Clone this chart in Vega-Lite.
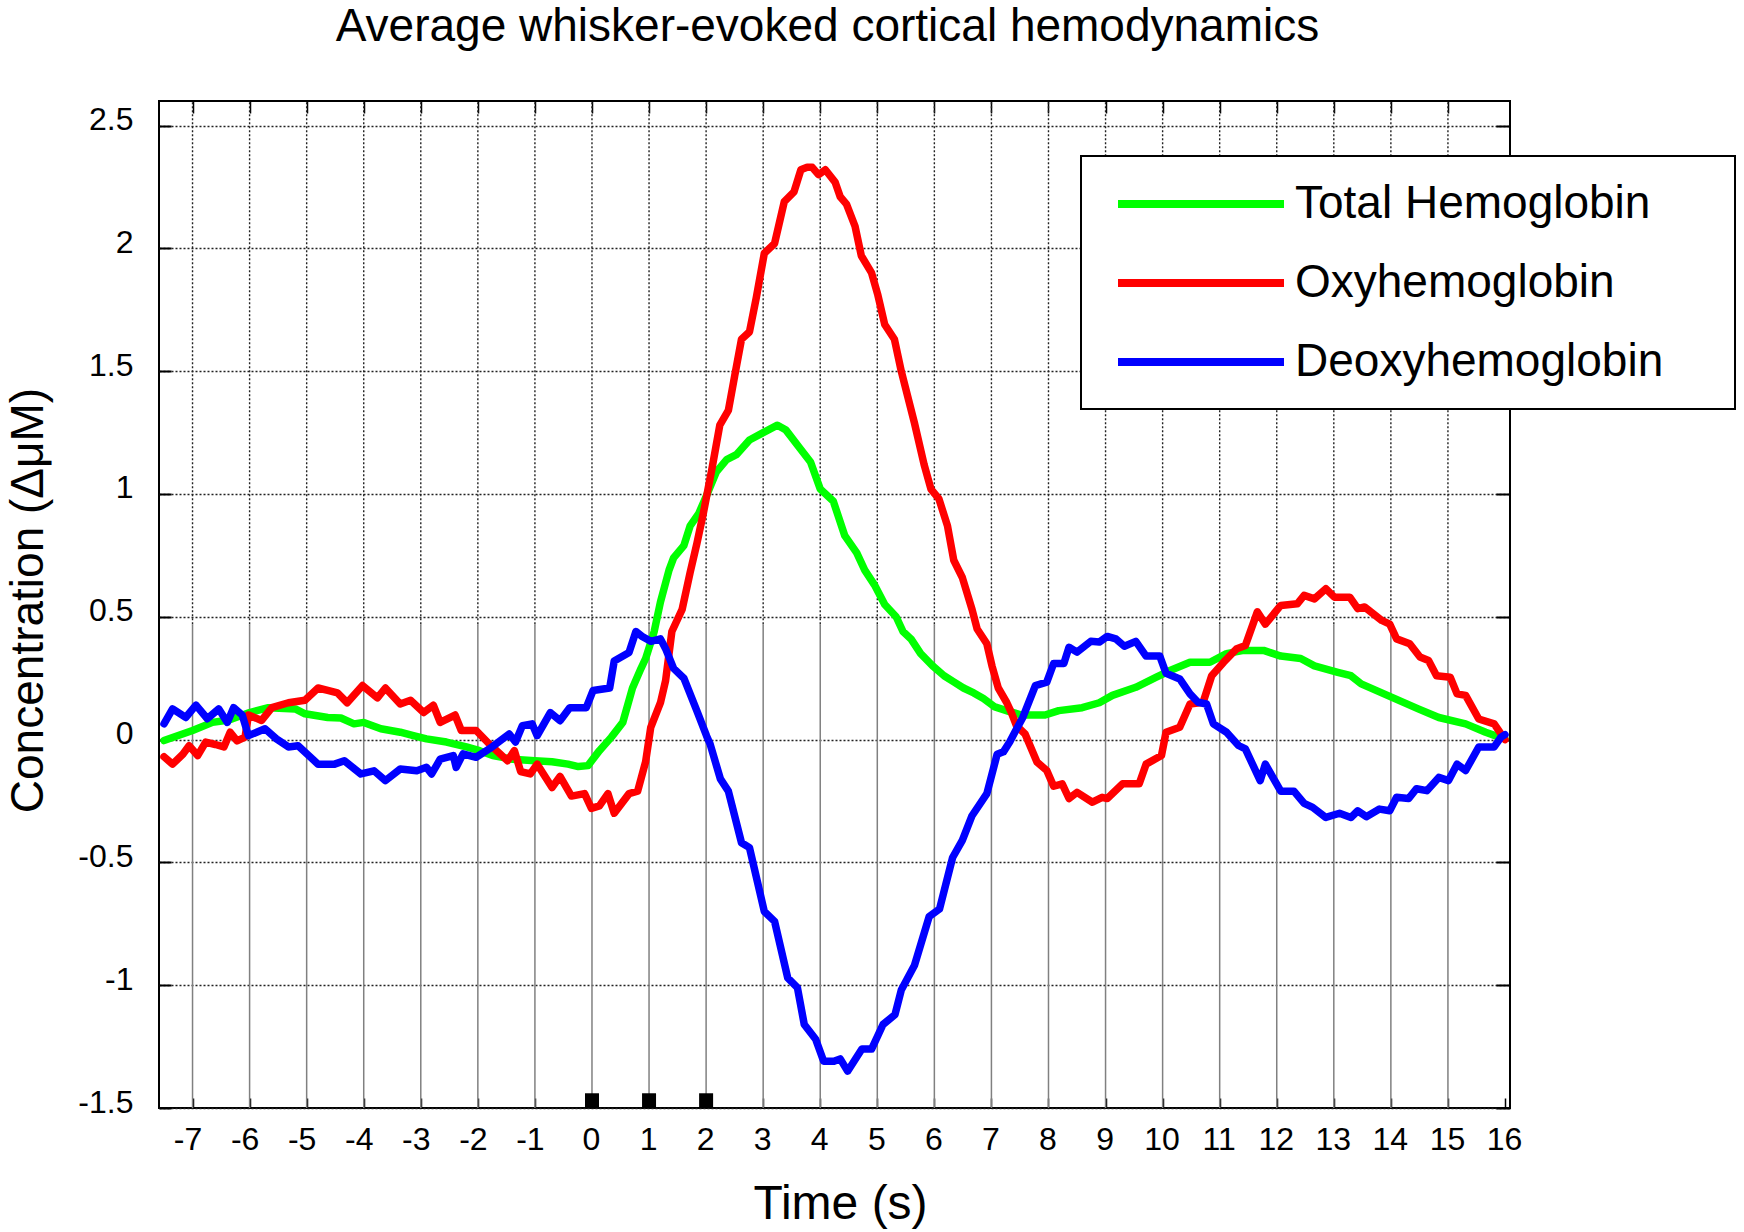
{
  "$schema": "https://vega.github.io/schema/vega-lite/v6.json",
  "width": 1351,
  "height": 1007,
  "autosize": {"type": "none"},
  "padding": {"left": 159, "top": 101, "right": 234, "bottom": 124},
  "background": "white",
  "title": {
    "text": "Average whisker-evoked cortical hemodynamics",
    "font": "Liberation Sans",
    "fontSize": 46,
    "fontWeight": "normal",
    "color": "black",
    "anchor": "middle",
    "baseline": "alphabetic",
    "offset": 13,
    "dx": -7
  },
  "config": {
    "view": {"stroke": "black", "strokeWidth": 2},
    "locale": {"number": {"decimal": ".", "thousands": ",", "grouping": [3], "currency": ["$", ""], "minus": "-"}},
    "axis": {"labelFont": "Liberation Sans", "titleFont": "Liberation Sans", "labelColor": "black", "titleColor": "black", "titleFontWeight": "normal"}
  },
  "resolve": {"axis": {"x": "independent", "y": "independent"}},
  "datasets": {
    "grid": [{"t": -7}, {"t": -6}, {"t": -5}, {"t": -4}, {"t": -3}, {"t": -2}, {"t": -1}, {"t": 0}, {"t": 1}, {"t": 2}, {"t": 3}, {"t": 4}, {"t": 5}, {"t": 6}, {"t": 7}, {"t": 8}, {"t": 9}, {"t": 10}, {"t": 11}, {"t": 12}, {"t": 13}, {"t": 14}, {"t": 15}],
    "stim": [{"t": 0}, {"t": 1}, {"t": 2}],
    "curves": [
      {"series": "Total Hemoglobin", "t": -7.5, "value": -0.004},
      {"series": "Total Hemoglobin", "t": -7.0, "value": 0.037},
      {"series": "Total Hemoglobin", "t": -6.65, "value": 0.07},
      {"series": "Total Hemoglobin", "t": -6.36, "value": 0.08},
      {"series": "Total Hemoglobin", "t": -6.0, "value": 0.11},
      {"series": "Total Hemoglobin", "t": -5.67, "value": 0.13},
      {"series": "Total Hemoglobin", "t": -5.2, "value": 0.125},
      {"series": "Total Hemoglobin", "t": -5.03, "value": 0.105},
      {"series": "Total Hemoglobin", "t": -4.63, "value": 0.09},
      {"series": "Total Hemoglobin", "t": -4.4, "value": 0.088},
      {"series": "Total Hemoglobin", "t": -4.17, "value": 0.064},
      {"series": "Total Hemoglobin", "t": -4.0, "value": 0.07},
      {"series": "Total Hemoglobin", "t": -3.7, "value": 0.044},
      {"series": "Total Hemoglobin", "t": -3.36, "value": 0.03},
      {"series": "Total Hemoglobin", "t": -3.13, "value": 0.016},
      {"series": "Total Hemoglobin", "t": -2.9, "value": 0.003},
      {"series": "Total Hemoglobin", "t": -2.55, "value": -0.01},
      {"series": "Total Hemoglobin", "t": -2.2, "value": -0.03},
      {"series": "Total Hemoglobin", "t": -1.97, "value": -0.045},
      {"series": "Total Hemoglobin", "t": -1.74, "value": -0.065},
      {"series": "Total Hemoglobin", "t": -1.39, "value": -0.08},
      {"series": "Total Hemoglobin", "t": -1.0, "value": -0.086},
      {"series": "Total Hemoglobin", "t": -0.7, "value": -0.09},
      {"series": "Total Hemoglobin", "t": -0.42, "value": -0.1},
      {"series": "Total Hemoglobin", "t": -0.24, "value": -0.11},
      {"series": "Total Hemoglobin", "t": -0.07, "value": -0.106},
      {"series": "Total Hemoglobin", "t": 0.13, "value": -0.045},
      {"series": "Total Hemoglobin", "t": 0.34, "value": 0.01},
      {"series": "Total Hemoglobin", "t": 0.54, "value": 0.07},
      {"series": "Total Hemoglobin", "t": 0.71, "value": 0.21},
      {"series": "Total Hemoglobin", "t": 0.86, "value": 0.29},
      {"series": "Total Hemoglobin", "t": 0.94, "value": 0.33},
      {"series": "Total Hemoglobin", "t": 1.09, "value": 0.44},
      {"series": "Total Hemoglobin", "t": 1.2, "value": 0.56},
      {"series": "Total Hemoglobin", "t": 1.35, "value": 0.69},
      {"series": "Total Hemoglobin", "t": 1.43, "value": 0.74},
      {"series": "Total Hemoglobin", "t": 1.61, "value": 0.79},
      {"series": "Total Hemoglobin", "t": 1.72, "value": 0.87},
      {"series": "Total Hemoglobin", "t": 1.87, "value": 0.92},
      {"series": "Total Hemoglobin", "t": 2.01, "value": 0.995},
      {"series": "Total Hemoglobin", "t": 2.18, "value": 1.09},
      {"series": "Total Hemoglobin", "t": 2.36, "value": 1.14},
      {"series": "Total Hemoglobin", "t": 2.53, "value": 1.16},
      {"series": "Total Hemoglobin", "t": 2.76, "value": 1.22},
      {"series": "Total Hemoglobin", "t": 3.0, "value": 1.25},
      {"series": "Total Hemoglobin", "t": 3.25, "value": 1.28},
      {"series": "Total Hemoglobin", "t": 3.4, "value": 1.26},
      {"series": "Total Hemoglobin", "t": 3.63, "value": 1.19},
      {"series": "Total Hemoglobin", "t": 3.83, "value": 1.13},
      {"series": "Total Hemoglobin", "t": 4.0, "value": 1.02},
      {"series": "Total Hemoglobin", "t": 4.23, "value": 0.97},
      {"series": "Total Hemoglobin", "t": 4.43, "value": 0.83},
      {"series": "Total Hemoglobin", "t": 4.64, "value": 0.76},
      {"series": "Total Hemoglobin", "t": 4.78, "value": 0.69},
      {"series": "Total Hemoglobin", "t": 4.95, "value": 0.63},
      {"series": "Total Hemoglobin", "t": 5.13, "value": 0.55},
      {"series": "Total Hemoglobin", "t": 5.33, "value": 0.5},
      {"series": "Total Hemoglobin", "t": 5.45, "value": 0.44},
      {"series": "Total Hemoglobin", "t": 5.59, "value": 0.41},
      {"series": "Total Hemoglobin", "t": 5.76, "value": 0.35},
      {"series": "Total Hemoglobin", "t": 5.97, "value": 0.3},
      {"series": "Total Hemoglobin", "t": 6.17, "value": 0.26},
      {"series": "Total Hemoglobin", "t": 6.34, "value": 0.235},
      {"series": "Total Hemoglobin", "t": 6.51, "value": 0.21},
      {"series": "Total Hemoglobin", "t": 6.69, "value": 0.19},
      {"series": "Total Hemoglobin", "t": 6.86, "value": 0.167},
      {"series": "Total Hemoglobin", "t": 7.06, "value": 0.133},
      {"series": "Total Hemoglobin", "t": 7.29, "value": 0.116},
      {"series": "Total Hemoglobin", "t": 7.53, "value": 0.1},
      {"series": "Total Hemoglobin", "t": 7.94, "value": 0.1},
      {"series": "Total Hemoglobin", "t": 8.18, "value": 0.118},
      {"series": "Total Hemoglobin", "t": 8.59, "value": 0.13},
      {"series": "Total Hemoglobin", "t": 8.89, "value": 0.15},
      {"series": "Total Hemoglobin", "t": 9.12, "value": 0.18},
      {"series": "Total Hemoglobin", "t": 9.53, "value": 0.213},
      {"series": "Total Hemoglobin", "t": 9.89, "value": 0.254},
      {"series": "Total Hemoglobin", "t": 10.12, "value": 0.28},
      {"series": "Total Hemoglobin", "t": 10.48, "value": 0.315},
      {"series": "Total Hemoglobin", "t": 10.83, "value": 0.315},
      {"series": "Total Hemoglobin", "t": 11.12, "value": 0.35},
      {"series": "Total Hemoglobin", "t": 11.42, "value": 0.363},
      {"series": "Total Hemoglobin", "t": 11.77, "value": 0.363},
      {"series": "Total Hemoglobin", "t": 12.07, "value": 0.34},
      {"series": "Total Hemoglobin", "t": 12.42, "value": 0.33},
      {"series": "Total Hemoglobin", "t": 12.66, "value": 0.3},
      {"series": "Total Hemoglobin", "t": 13.07, "value": 0.274},
      {"series": "Total Hemoglobin", "t": 13.3, "value": 0.26},
      {"series": "Total Hemoglobin", "t": 13.48, "value": 0.227},
      {"series": "Total Hemoglobin", "t": 14.01, "value": 0.173},
      {"series": "Total Hemoglobin", "t": 14.48, "value": 0.125},
      {"series": "Total Hemoglobin", "t": 14.84, "value": 0.09},
      {"series": "Total Hemoglobin", "t": 15.31, "value": 0.064},
      {"series": "Total Hemoglobin", "t": 15.66, "value": 0.03},
      {"series": "Total Hemoglobin", "t": 15.9, "value": 0.01},
      {"series": "Total Hemoglobin", "t": 16.0, "value": 0.003},

      {"series": "Oxyhemoglobin", "t": -7.5, "value": -0.07},
      {"series": "Oxyhemoglobin", "t": -7.35, "value": -0.1},
      {"series": "Oxyhemoglobin", "t": -7.17, "value": -0.06},
      {"series": "Oxyhemoglobin", "t": -7.06, "value": -0.025},
      {"series": "Oxyhemoglobin", "t": -6.91, "value": -0.065},
      {"series": "Oxyhemoglobin", "t": -6.77, "value": -0.01},
      {"series": "Oxyhemoglobin", "t": -6.6, "value": -0.02},
      {"series": "Oxyhemoglobin", "t": -6.45, "value": -0.03},
      {"series": "Oxyhemoglobin", "t": -6.34, "value": 0.03},
      {"series": "Oxyhemoglobin", "t": -6.22, "value": -0.005},
      {"series": "Oxyhemoglobin", "t": -6.08, "value": 0.01},
      {"series": "Oxyhemoglobin", "t": -6.02, "value": 0.1},
      {"series": "Oxyhemoglobin", "t": -5.79, "value": 0.078},
      {"series": "Oxyhemoglobin", "t": -5.61, "value": 0.13},
      {"series": "Oxyhemoglobin", "t": -5.32, "value": 0.15},
      {"series": "Oxyhemoglobin", "t": -5.03, "value": 0.16},
      {"series": "Oxyhemoglobin", "t": -4.8, "value": 0.21},
      {"series": "Oxyhemoglobin", "t": -4.63, "value": 0.2},
      {"series": "Oxyhemoglobin", "t": -4.46, "value": 0.19},
      {"series": "Oxyhemoglobin", "t": -4.29, "value": 0.15},
      {"series": "Oxyhemoglobin", "t": -4.02, "value": 0.22},
      {"series": "Oxyhemoglobin", "t": -3.76, "value": 0.17},
      {"series": "Oxyhemoglobin", "t": -3.62, "value": 0.21},
      {"series": "Oxyhemoglobin", "t": -3.36, "value": 0.145},
      {"series": "Oxyhemoglobin", "t": -3.18, "value": 0.16},
      {"series": "Oxyhemoglobin", "t": -2.95, "value": 0.11},
      {"series": "Oxyhemoglobin", "t": -2.78, "value": 0.14},
      {"series": "Oxyhemoglobin", "t": -2.66, "value": 0.07},
      {"series": "Oxyhemoglobin", "t": -2.4, "value": 0.1},
      {"series": "Oxyhemoglobin", "t": -2.29, "value": 0.037},
      {"series": "Oxyhemoglobin", "t": -2.03, "value": 0.037},
      {"series": "Oxyhemoglobin", "t": -1.8, "value": -0.018},
      {"series": "Oxyhemoglobin", "t": -1.48, "value": -0.086},
      {"series": "Oxyhemoglobin", "t": -1.36, "value": -0.045},
      {"series": "Oxyhemoglobin", "t": -1.25, "value": -0.13},
      {"series": "Oxyhemoglobin", "t": -1.08, "value": -0.14},
      {"series": "Oxyhemoglobin", "t": -0.96, "value": -0.1},
      {"series": "Oxyhemoglobin", "t": -0.7, "value": -0.195},
      {"series": "Oxyhemoglobin", "t": -0.56, "value": -0.15},
      {"series": "Oxyhemoglobin", "t": -0.36, "value": -0.23},
      {"series": "Oxyhemoglobin", "t": -0.13, "value": -0.22},
      {"series": "Oxyhemoglobin", "t": -0.01, "value": -0.28},
      {"series": "Oxyhemoglobin", "t": 0.13, "value": -0.27},
      {"series": "Oxyhemoglobin", "t": 0.28, "value": -0.22},
      {"series": "Oxyhemoglobin", "t": 0.39, "value": -0.3},
      {"series": "Oxyhemoglobin", "t": 0.65, "value": -0.22},
      {"series": "Oxyhemoglobin", "t": 0.8, "value": -0.21},
      {"series": "Oxyhemoglobin", "t": 0.94, "value": -0.09},
      {"series": "Oxyhemoglobin", "t": 1.03, "value": 0.05},
      {"series": "Oxyhemoglobin", "t": 1.2, "value": 0.15},
      {"series": "Oxyhemoglobin", "t": 1.29, "value": 0.24},
      {"series": "Oxyhemoglobin", "t": 1.4, "value": 0.44},
      {"series": "Oxyhemoglobin", "t": 1.58, "value": 0.53},
      {"series": "Oxyhemoglobin", "t": 1.72, "value": 0.68},
      {"series": "Oxyhemoglobin", "t": 1.84, "value": 0.8},
      {"series": "Oxyhemoglobin", "t": 1.95, "value": 0.92},
      {"series": "Oxyhemoglobin", "t": 2.1, "value": 1.1},
      {"series": "Oxyhemoglobin", "t": 2.24, "value": 1.28},
      {"series": "Oxyhemoglobin", "t": 2.39, "value": 1.34},
      {"series": "Oxyhemoglobin", "t": 2.5, "value": 1.48},
      {"series": "Oxyhemoglobin", "t": 2.62, "value": 1.63},
      {"series": "Oxyhemoglobin", "t": 2.76, "value": 1.66},
      {"series": "Oxyhemoglobin", "t": 2.88, "value": 1.8},
      {"series": "Oxyhemoglobin", "t": 3.02, "value": 1.98},
      {"series": "Oxyhemoglobin", "t": 3.2, "value": 2.02},
      {"series": "Oxyhemoglobin", "t": 3.37, "value": 2.19},
      {"series": "Oxyhemoglobin", "t": 3.54, "value": 2.23},
      {"series": "Oxyhemoglobin", "t": 3.66, "value": 2.32},
      {"series": "Oxyhemoglobin", "t": 3.77, "value": 2.33},
      {"series": "Oxyhemoglobin", "t": 3.86, "value": 2.33},
      {"series": "Oxyhemoglobin", "t": 3.97, "value": 2.3},
      {"series": "Oxyhemoglobin", "t": 4.09, "value": 2.32},
      {"series": "Oxyhemoglobin", "t": 4.26, "value": 2.27},
      {"series": "Oxyhemoglobin", "t": 4.35, "value": 2.21},
      {"series": "Oxyhemoglobin", "t": 4.46, "value": 2.18},
      {"series": "Oxyhemoglobin", "t": 4.61, "value": 2.09},
      {"series": "Oxyhemoglobin", "t": 4.72, "value": 1.97},
      {"series": "Oxyhemoglobin", "t": 4.9, "value": 1.9},
      {"series": "Oxyhemoglobin", "t": 5.01, "value": 1.81},
      {"series": "Oxyhemoglobin", "t": 5.13, "value": 1.69},
      {"series": "Oxyhemoglobin", "t": 5.3, "value": 1.63},
      {"series": "Oxyhemoglobin", "t": 5.42, "value": 1.5},
      {"series": "Oxyhemoglobin", "t": 5.65, "value": 1.29},
      {"series": "Oxyhemoglobin", "t": 5.82, "value": 1.12},
      {"series": "Oxyhemoglobin", "t": 5.94, "value": 1.02},
      {"series": "Oxyhemoglobin", "t": 6.08, "value": 0.98},
      {"series": "Oxyhemoglobin", "t": 6.23, "value": 0.87},
      {"series": "Oxyhemoglobin", "t": 6.34, "value": 0.73},
      {"series": "Oxyhemoglobin", "t": 6.49, "value": 0.66},
      {"series": "Oxyhemoglobin", "t": 6.66, "value": 0.53},
      {"series": "Oxyhemoglobin", "t": 6.75, "value": 0.45},
      {"series": "Oxyhemoglobin", "t": 6.92, "value": 0.39},
      {"series": "Oxyhemoglobin", "t": 7.01, "value": 0.3},
      {"series": "Oxyhemoglobin", "t": 7.12, "value": 0.21},
      {"series": "Oxyhemoglobin", "t": 7.27, "value": 0.15},
      {"series": "Oxyhemoglobin", "t": 7.35, "value": 0.11},
      {"series": "Oxyhemoglobin", "t": 7.44, "value": 0.056},
      {"series": "Oxyhemoglobin", "t": 7.59, "value": 0.023},
      {"series": "Oxyhemoglobin", "t": 7.8, "value": -0.092},
      {"series": "Oxyhemoglobin", "t": 7.97, "value": -0.126},
      {"series": "Oxyhemoglobin", "t": 8.09, "value": -0.19},
      {"series": "Oxyhemoglobin", "t": 8.24, "value": -0.18},
      {"series": "Oxyhemoglobin", "t": 8.36, "value": -0.24},
      {"series": "Oxyhemoglobin", "t": 8.5, "value": -0.215},
      {"series": "Oxyhemoglobin", "t": 8.77, "value": -0.255},
      {"series": "Oxyhemoglobin", "t": 8.94, "value": -0.235},
      {"series": "Oxyhemoglobin", "t": 9.03, "value": -0.24},
      {"series": "Oxyhemoglobin", "t": 9.3, "value": -0.18},
      {"series": "Oxyhemoglobin", "t": 9.59, "value": -0.18},
      {"series": "Oxyhemoglobin", "t": 9.71, "value": -0.1},
      {"series": "Oxyhemoglobin", "t": 9.98, "value": -0.065},
      {"series": "Oxyhemoglobin", "t": 10.06, "value": 0.03},
      {"series": "Oxyhemoglobin", "t": 10.3, "value": 0.05},
      {"series": "Oxyhemoglobin", "t": 10.48, "value": 0.145},
      {"series": "Oxyhemoglobin", "t": 10.71, "value": 0.152},
      {"series": "Oxyhemoglobin", "t": 10.86, "value": 0.26},
      {"series": "Oxyhemoglobin", "t": 11.07, "value": 0.315},
      {"series": "Oxyhemoglobin", "t": 11.3, "value": 0.37},
      {"series": "Oxyhemoglobin", "t": 11.45, "value": 0.383},
      {"series": "Oxyhemoglobin", "t": 11.66, "value": 0.52},
      {"series": "Oxyhemoglobin", "t": 11.8, "value": 0.47},
      {"series": "Oxyhemoglobin", "t": 12.07, "value": 0.546},
      {"series": "Oxyhemoglobin", "t": 12.36, "value": 0.553},
      {"series": "Oxyhemoglobin", "t": 12.48, "value": 0.587},
      {"series": "Oxyhemoglobin", "t": 12.66, "value": 0.573},
      {"series": "Oxyhemoglobin", "t": 12.86, "value": 0.614},
      {"series": "Oxyhemoglobin", "t": 13.01, "value": 0.58},
      {"series": "Oxyhemoglobin", "t": 13.28, "value": 0.58},
      {"series": "Oxyhemoglobin", "t": 13.42, "value": 0.533},
      {"series": "Oxyhemoglobin", "t": 13.54, "value": 0.54},
      {"series": "Oxyhemoglobin", "t": 13.84, "value": 0.485},
      {"series": "Oxyhemoglobin", "t": 13.98, "value": 0.47},
      {"series": "Oxyhemoglobin", "t": 14.1, "value": 0.41},
      {"series": "Oxyhemoglobin", "t": 14.33, "value": 0.39},
      {"series": "Oxyhemoglobin", "t": 14.51, "value": 0.336},
      {"series": "Oxyhemoglobin", "t": 14.66, "value": 0.322},
      {"series": "Oxyhemoglobin", "t": 14.8, "value": 0.26},
      {"series": "Oxyhemoglobin", "t": 15.04, "value": 0.254},
      {"series": "Oxyhemoglobin", "t": 15.16, "value": 0.186},
      {"series": "Oxyhemoglobin", "t": 15.31, "value": 0.18},
      {"series": "Oxyhemoglobin", "t": 15.54, "value": 0.084},
      {"series": "Oxyhemoglobin", "t": 15.81, "value": 0.064},
      {"series": "Oxyhemoglobin", "t": 15.93, "value": 0.023},
      {"series": "Oxyhemoglobin", "t": 16.0, "value": 0.0},

      {"series": "Deoxyhemoglobin", "t": -7.5, "value": 0.064},
      {"series": "Deoxyhemoglobin", "t": -7.35, "value": 0.125},
      {"series": "Deoxyhemoglobin", "t": -7.12, "value": 0.09},
      {"series": "Deoxyhemoglobin", "t": -6.94, "value": 0.14},
      {"series": "Deoxyhemoglobin", "t": -6.74, "value": 0.085},
      {"series": "Deoxyhemoglobin", "t": -6.54, "value": 0.125},
      {"series": "Deoxyhemoglobin", "t": -6.39, "value": 0.07},
      {"series": "Deoxyhemoglobin", "t": -6.28, "value": 0.13},
      {"series": "Deoxyhemoglobin", "t": -6.13, "value": 0.1},
      {"series": "Deoxyhemoglobin", "t": -6.02, "value": 0.016},
      {"series": "Deoxyhemoglobin", "t": -5.73, "value": 0.044},
      {"series": "Deoxyhemoglobin", "t": -5.53, "value": 0.003},
      {"series": "Deoxyhemoglobin", "t": -5.32, "value": -0.03},
      {"series": "Deoxyhemoglobin", "t": -5.15, "value": -0.025},
      {"series": "Deoxyhemoglobin", "t": -4.8, "value": -0.1},
      {"series": "Deoxyhemoglobin", "t": -4.51, "value": -0.1},
      {"series": "Deoxyhemoglobin", "t": -4.34, "value": -0.086},
      {"series": "Deoxyhemoglobin", "t": -4.05, "value": -0.14},
      {"series": "Deoxyhemoglobin", "t": -3.82, "value": -0.127},
      {"series": "Deoxyhemoglobin", "t": -3.62, "value": -0.167},
      {"series": "Deoxyhemoglobin", "t": -3.36, "value": -0.12},
      {"series": "Deoxyhemoglobin", "t": -3.07, "value": -0.127},
      {"series": "Deoxyhemoglobin", "t": -2.9, "value": -0.113},
      {"series": "Deoxyhemoglobin", "t": -2.81, "value": -0.14},
      {"series": "Deoxyhemoglobin", "t": -2.66, "value": -0.08},
      {"series": "Deoxyhemoglobin", "t": -2.43, "value": -0.065},
      {"series": "Deoxyhemoglobin", "t": -2.38, "value": -0.113},
      {"series": "Deoxyhemoglobin", "t": -2.26, "value": -0.058},
      {"series": "Deoxyhemoglobin", "t": -2.03, "value": -0.072},
      {"series": "Deoxyhemoglobin", "t": -1.8, "value": -0.038},
      {"series": "Deoxyhemoglobin", "t": -1.45, "value": 0.023},
      {"series": "Deoxyhemoglobin", "t": -1.34, "value": -0.01},
      {"series": "Deoxyhemoglobin", "t": -1.22, "value": 0.057},
      {"series": "Deoxyhemoglobin", "t": -1.05, "value": 0.064},
      {"series": "Deoxyhemoglobin", "t": -0.96, "value": 0.016},
      {"series": "Deoxyhemoglobin", "t": -0.73, "value": 0.11},
      {"series": "Deoxyhemoglobin", "t": -0.56, "value": 0.077},
      {"series": "Deoxyhemoglobin", "t": -0.39, "value": 0.13},
      {"series": "Deoxyhemoglobin", "t": -0.1, "value": 0.13},
      {"series": "Deoxyhemoglobin", "t": 0.02, "value": 0.2},
      {"series": "Deoxyhemoglobin", "t": 0.31, "value": 0.21},
      {"series": "Deoxyhemoglobin", "t": 0.39, "value": 0.32},
      {"series": "Deoxyhemoglobin", "t": 0.65, "value": 0.355},
      {"series": "Deoxyhemoglobin", "t": 0.77, "value": 0.44},
      {"series": "Deoxyhemoglobin", "t": 0.88, "value": 0.42},
      {"series": "Deoxyhemoglobin", "t": 1.03, "value": 0.4},
      {"series": "Deoxyhemoglobin", "t": 1.2, "value": 0.41},
      {"series": "Deoxyhemoglobin", "t": 1.29, "value": 0.37},
      {"series": "Deoxyhemoglobin", "t": 1.43, "value": 0.29},
      {"series": "Deoxyhemoglobin", "t": 1.61, "value": 0.25},
      {"series": "Deoxyhemoglobin", "t": 1.84, "value": 0.116},
      {"series": "Deoxyhemoglobin", "t": 2.01, "value": 0.014},
      {"series": "Deoxyhemoglobin", "t": 2.07, "value": -0.018},
      {"series": "Deoxyhemoglobin", "t": 2.25, "value": -0.16},
      {"series": "Deoxyhemoglobin", "t": 2.39, "value": -0.21},
      {"series": "Deoxyhemoglobin", "t": 2.62, "value": -0.42},
      {"series": "Deoxyhemoglobin", "t": 2.76, "value": -0.44},
      {"series": "Deoxyhemoglobin", "t": 3.02, "value": -0.7},
      {"series": "Deoxyhemoglobin", "t": 3.2, "value": -0.74},
      {"series": "Deoxyhemoglobin", "t": 3.43, "value": -0.97},
      {"series": "Deoxyhemoglobin", "t": 3.6, "value": -1.01},
      {"series": "Deoxyhemoglobin", "t": 3.72, "value": -1.16},
      {"series": "Deoxyhemoglobin", "t": 3.92, "value": -1.22},
      {"series": "Deoxyhemoglobin", "t": 4.06, "value": -1.31},
      {"series": "Deoxyhemoglobin", "t": 4.24, "value": -1.31},
      {"series": "Deoxyhemoglobin", "t": 4.35, "value": -1.3},
      {"series": "Deoxyhemoglobin", "t": 4.48, "value": -1.35},
      {"series": "Deoxyhemoglobin", "t": 4.73, "value": -1.26},
      {"series": "Deoxyhemoglobin", "t": 4.9, "value": -1.26},
      {"series": "Deoxyhemoglobin", "t": 5.1, "value": -1.16},
      {"series": "Deoxyhemoglobin", "t": 5.31, "value": -1.12},
      {"series": "Deoxyhemoglobin", "t": 5.42, "value": -1.02},
      {"series": "Deoxyhemoglobin", "t": 5.65, "value": -0.92},
      {"series": "Deoxyhemoglobin", "t": 5.91, "value": -0.72},
      {"series": "Deoxyhemoglobin", "t": 6.09, "value": -0.69},
      {"series": "Deoxyhemoglobin", "t": 6.32, "value": -0.48},
      {"series": "Deoxyhemoglobin", "t": 6.49, "value": -0.41},
      {"series": "Deoxyhemoglobin", "t": 6.66, "value": -0.31},
      {"series": "Deoxyhemoglobin", "t": 6.92, "value": -0.22},
      {"series": "Deoxyhemoglobin", "t": 7.1, "value": -0.06},
      {"series": "Deoxyhemoglobin", "t": 7.21, "value": -0.05},
      {"series": "Deoxyhemoglobin", "t": 7.32, "value": -0.01},
      {"series": "Deoxyhemoglobin", "t": 7.41, "value": 0.03},
      {"series": "Deoxyhemoglobin", "t": 7.55, "value": 0.09},
      {"series": "Deoxyhemoglobin", "t": 7.77, "value": 0.22},
      {"series": "Deoxyhemoglobin", "t": 7.97, "value": 0.234},
      {"series": "Deoxyhemoglobin", "t": 8.09, "value": 0.31},
      {"series": "Deoxyhemoglobin", "t": 8.27, "value": 0.31},
      {"series": "Deoxyhemoglobin", "t": 8.36, "value": 0.376},
      {"series": "Deoxyhemoglobin", "t": 8.5, "value": 0.356},
      {"series": "Deoxyhemoglobin", "t": 8.74, "value": 0.4},
      {"series": "Deoxyhemoglobin", "t": 8.89, "value": 0.397},
      {"series": "Deoxyhemoglobin", "t": 9.03, "value": 0.42},
      {"series": "Deoxyhemoglobin", "t": 9.18, "value": 0.41},
      {"series": "Deoxyhemoglobin", "t": 9.33, "value": 0.38},
      {"series": "Deoxyhemoglobin", "t": 9.53, "value": 0.4},
      {"series": "Deoxyhemoglobin", "t": 9.71, "value": 0.34},
      {"series": "Deoxyhemoglobin", "t": 9.95, "value": 0.34},
      {"series": "Deoxyhemoglobin", "t": 10.06, "value": 0.27},
      {"series": "Deoxyhemoglobin", "t": 10.3, "value": 0.247},
      {"series": "Deoxyhemoglobin", "t": 10.48, "value": 0.186},
      {"series": "Deoxyhemoglobin", "t": 10.62, "value": 0.152},
      {"series": "Deoxyhemoglobin", "t": 10.77, "value": 0.145},
      {"series": "Deoxyhemoglobin", "t": 10.89, "value": 0.064},
      {"series": "Deoxyhemoglobin", "t": 11.12, "value": 0.03},
      {"series": "Deoxyhemoglobin", "t": 11.33, "value": -0.024},
      {"series": "Deoxyhemoglobin", "t": 11.45, "value": -0.038},
      {"series": "Deoxyhemoglobin", "t": 11.71, "value": -0.167},
      {"series": "Deoxyhemoglobin", "t": 11.8, "value": -0.1},
      {"series": "Deoxyhemoglobin", "t": 12.07, "value": -0.21},
      {"series": "Deoxyhemoglobin", "t": 12.3, "value": -0.21},
      {"series": "Deoxyhemoglobin", "t": 12.48, "value": -0.26},
      {"series": "Deoxyhemoglobin", "t": 12.63, "value": -0.276},
      {"series": "Deoxyhemoglobin", "t": 12.86, "value": -0.317},
      {"series": "Deoxyhemoglobin", "t": 13.1, "value": -0.3},
      {"series": "Deoxyhemoglobin", "t": 13.3, "value": -0.317},
      {"series": "Deoxyhemoglobin", "t": 13.42, "value": -0.29},
      {"series": "Deoxyhemoglobin", "t": 13.57, "value": -0.314},
      {"series": "Deoxyhemoglobin", "t": 13.8, "value": -0.283},
      {"series": "Deoxyhemoglobin", "t": 13.98, "value": -0.29},
      {"series": "Deoxyhemoglobin", "t": 14.1, "value": -0.235},
      {"series": "Deoxyhemoglobin", "t": 14.31, "value": -0.24},
      {"series": "Deoxyhemoglobin", "t": 14.45, "value": -0.2},
      {"series": "Deoxyhemoglobin", "t": 14.63, "value": -0.208},
      {"series": "Deoxyhemoglobin", "t": 14.84, "value": -0.154},
      {"series": "Deoxyhemoglobin", "t": 15.01, "value": -0.167},
      {"series": "Deoxyhemoglobin", "t": 15.16, "value": -0.1},
      {"series": "Deoxyhemoglobin", "t": 15.31, "value": -0.126},
      {"series": "Deoxyhemoglobin", "t": 15.54, "value": -0.03},
      {"series": "Deoxyhemoglobin", "t": 15.81, "value": -0.03},
      {"series": "Deoxyhemoglobin", "t": 15.93, "value": 0.01},
      {"series": "Deoxyhemoglobin", "t": 16.0, "value": 0.02}
    ]
  },
  "layer": [
    {
      "data": {"name": "grid"},
      "mark": {"type": "rule", "color": "#222222", "strokeWidth": 1.4, "strokeDash": [2, 2]},
      "encoding": {
        "x": {
          "field": "t", "type": "quantitative",
          "scale": {"domain": [-7.5, 16], "nice": false, "zero": false},
          "axis": {"orient": "top", "title": null, "labels": false, "domain": false, "grid": false, "ticks": true, "tickSize": -12, "tickWidth": 1.5, "tickColor": "black", "values": [-7, -6, -5, -4, -3, -2, -1, 0, 1, 2, 3, 4, 5, 6, 7, 8, 9, 10, 11, 12, 13, 14, 15]}
        },
        "y": {
          "datum": 0.47, "type": "quantitative",
          "scale": {"domain": [-1.5, 2.6], "nice": false, "zero": false},
          "axis": {"orient": "right", "title": null, "labels": false, "domain": false, "grid": false, "ticks": true, "tickSize": -14, "tickWidth": 2, "tickColor": "black", "values": [-1.5, -1, -0.5, 0, 0.5, 1, 1.5, 2, 2.5]}
        },
        "y2": {"datum": 2.6}
      }
    },
    {
      "data": {"name": "grid"},
      "mark": {"type": "rule", "color": "#808080", "strokeWidth": 1.5},
      "encoding": {
        "x": {"field": "t", "type": "quantitative", "axis": null},
        "y": {"datum": -1.5, "type": "quantitative", "axis": null},
        "y2": {"datum": 0.47}
      }
    },
    {
      "data": {"name": "curves"},
      "mark": {"type": "line", "strokeWidth": 7.5, "strokeJoin": "round", "strokeCap": "round"},
      "encoding": {
        "x": {
          "field": "t", "type": "quantitative",
          "axis": {
            "orient": "bottom", "title": "Time (s)", "titleFontSize": 48, "titleX": 681, "titleY": 110, "titleBaseline": "alphabetic",
            "values": [-7, -6, -5, -4, -3, -2, -1, 0, 1, 2, 3, 4, 5, 6, 7, 8, 9, 10, 11, 12, 13, 14, 15, 16],
            "format": "d", "labelFontSize": 32, "labelPadding": 26, "labelFlush": false, "labelOverlap": false,
            "labelOffset": {"condition": {"test": "datum.value < 0", "value": -5}, "value": -1},
            "domain": false, "grid": false, "ticks": true, "tickSize": -10, "tickWidth": 1.5, "tickColor": "black"
          }
        },
        "y": {
          "field": "value", "type": "quantitative",
          "axis": {
            "orient": "left", "title": "Concentration (ΔμM)", "titleFontSize": 46, "titleX": -117, "titleY": 499, "titleBaseline": "alphabetic", "titleAngle": -90,
            "values": [-1.5, -1, -0.5, 0, 0.5, 1, 1.5, 2, 2.5],
            "format": "~g", "labelFontSize": 32, "labelPadding": 38, "labelOffset": -6, "labelFlush": false, "labelOverlap": false,
            "domain": false, "ticks": true, "tickSize": -12, "tickWidth": 2, "tickColor": "black",
            "grid": true, "gridColor": "#222222", "gridWidth": 1.4, "gridDash": [2, 2], "gridOpacity": 1
          }
        },
        "color": {
          "field": "series", "type": "nominal",
          "scale": {"domain": ["Total Hemoglobin", "Oxyhemoglobin", "Deoxyhemoglobin"], "range": ["#00ff00", "#ff0000", "#0000ff"]},
          "legend": {
            "orient": "none", "legendX": 922, "legendY": 55, "title": null,
            "symbolType": "M-4.15,0H4.15", "symbolSize": 1600, "symbolStrokeWidth": 8, "symbolOffset": 72,
            "labelOffset": 70, "labelFont": "Liberation Sans", "labelFontSize": 46, "labelColor": "black", "labelLimit": 1000, "labelBaseline": "middle",
            "labelExpr": "datum.label + '\u00a0\u2800'",
            "rowPadding": 32, "padding": 24, "strokeColor": "black", "fillColor": "white",
            "encode": {"legend": {"update": {"strokeWidth": {"value": 2}}}}
          }
        }
      }
    },
    {
      "data": {"name": "stim"},
      "mark": {"type": "bar", "color": "black", "width": 14},
      "encoding": {
        "x": {"field": "t", "type": "quantitative", "axis": null},
        "y": {"datum": -1.5, "type": "quantitative", "axis": null},
        "y2": {"datum": -1.44}
      }
    }
  ]
}
